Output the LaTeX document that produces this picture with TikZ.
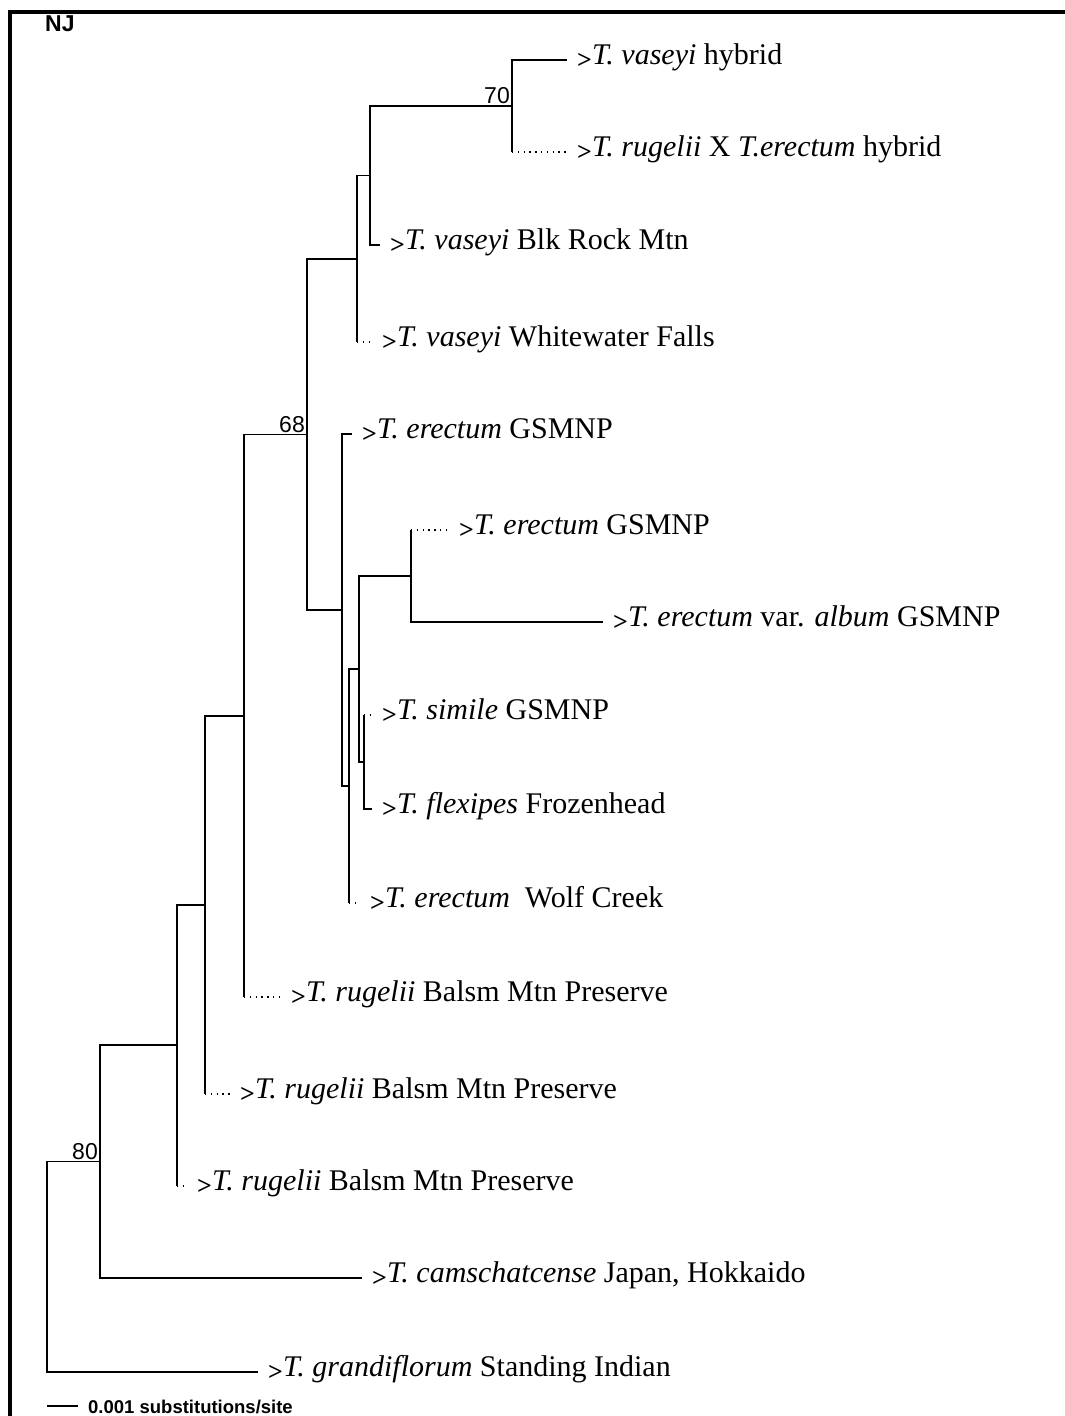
\documentclass[tikz,border=0pt]{standalone}
\usepackage{fontspec}
\setmainfont{Liberation Serif}
\newfontfamily\arialfont{Liberation Sans}
\usetikzlibrary{positioning, calc}

\newcommand{\mk}{\raisebox{-4pt}{\fontsize{26}{26}\selectfont\bfseries >}}

\begin{document}
\begin{tikzpicture}[x=1pt, y=-1pt,
    branch/.style={line width=1.6pt},
    dotbranch/.style={line width=1.3pt, dash pattern=on 1.3pt off 4.5pt},
    taxon/.style={anchor=base west, inner sep=0pt, font=\fontsize{30}{32}\selectfont},
    boot/.style={anchor=south east, inner sep=2pt, font=\arialfont\fontsize{23}{24}\selectfont},
    scalelabel/.style={anchor=base west, inner sep=0pt, font=\arialfont\bfseries\fontsize{18.5}{20}\selectfont},
    framebar/.style={line width=4pt}
]
\useasboundingbox (0,0) rectangle (1065,1416);

% Innere Knoten
\coordinate (root) at (47,1267);
\coordinate (n80)  at (100,1161.5);
\coordinate (n177) at (177,1045);
\coordinate (n205) at (205,905);
\coordinate (n244) at (244,716);
\coordinate (n68)  at (307,434.5);
\coordinate (nV)   at (357,259);
\coordinate (n370) at (370,175.5);
\coordinate (n70)  at (512,106);
\coordinate (nE)   at (342,610);
\coordinate (nF)   at (349,786);
\coordinate (nG)   at (359,669);
\coordinate (nH)   at (411,576);
\coordinate (nS)   at (364,762);

% Blattenden
\coordinate (t1)  at (567,60);
\coordinate (t2)  at (567,152);
\coordinate (t3)  at (380,245);
\coordinate (t4)  at (372,342);
\coordinate (t5)  at (352,434);
\coordinate (t6)  at (449,530);
\coordinate (t7)  at (603,622);
\coordinate (t8)  at (372,715);
\coordinate (t9)  at (372,809);
\coordinate (t10) at (360,903);
\coordinate (t11) at (281,997);
\coordinate (t12) at (230,1094);
\coordinate (t13) at (187,1186);
\coordinate (t14) at (362,1278);
\coordinate (t15) at (258,1372);

% Taxa
\node[taxon] (l1)  at ([xshift=10pt, yshift=-4pt] t1)  {\mk\textit{T. vaseyi} hybrid};
\node[taxon] (l2)  at ([xshift=10pt, yshift=-4pt] t2)  {\mk\textit{T. rugelii} X \textit{T.erectum} hybrid};
\node[taxon] (l3)  at ([xshift=10pt, yshift=-4pt] t3)  {\mk\textit{T. vaseyi} Blk Rock Mtn};
\node[taxon] (l4)  at ([xshift=10pt, yshift=-4pt] t4)  {\mk\textit{T. vaseyi} Whitewater Falls};
\node[taxon] (l5)  at ([xshift=10pt, yshift=-4pt] t5)  {\mk\textit{T. erectum} GSMNP};
\node[taxon] (l6)  at ([xshift=10pt, yshift=-4pt] t6)  {\mk\textit{T. erectum} GSMNP};
\node[taxon] (l7)  at ([xshift=10pt, yshift=-4pt] t7)  {\mk\textit{T. erectum} var. \textit{album} GSMNP};
\node[taxon] (l8)  at ([xshift=10pt, yshift=-4pt] t8)  {\mk\textit{T. simile} GSMNP};
\node[taxon] (l9)  at ([xshift=10pt, yshift=-4pt] t9)  {\mk\textit{T. flexipes} Frozenhead};
\node[taxon] (l10) at ([xshift=10pt, yshift=-4pt] t10) {\mk\textit{T. erectum}\ \ Wolf Creek};
\node[taxon] (l11) at ([xshift=10pt, yshift=-4pt] t11) {\mk\textit{T. rugelii} Balsm Mtn Preserve};
\node[taxon] (l12) at ([xshift=10pt, yshift=-4pt] t12) {\mk\textit{T. rugelii} Balsm Mtn Preserve};
\node[taxon] (l13) at ([xshift=10pt, yshift=-4pt] t13) {\mk\textit{T. rugelii} Balsm Mtn Preserve};
\node[taxon] (l14) at ([xshift=10pt, yshift=-4pt] t14) {\mk\textit{T. camschatcense} Japan, Hokkaido};
\node[taxon] (l15) at ([xshift=10pt, yshift=-4pt] t15) {\mk\textit{T. grandiflorum} Standing Indian};

% Bootstrapwerte
\node[boot] (b70) at (n70) {70};
\node[boot] (b68) at (n68) {68};
\node[boot] (b80) at (n80) {80};

% Äste
\draw[branch] (root) |- (n80);
\draw[branch] (root) |- (t15);
\draw[branch] (n80) |- (n177);
\draw[branch] (n80) |- (t14);
\draw[branch] (n177) |- (n205);
\draw[branch] (n177) -- (n177 |- t13);
\draw[dotbranch] (n177 |- t13) -- (t13);
\draw[branch] (n205) |- (n244);
\draw[branch] (n205) -- (n205 |- t12);
\draw[dotbranch] (n205 |- t12) -- (t12);
\draw[branch] (n244) |- (n68);
\draw[branch] (n244) -- (n244 |- t11);
\draw[dotbranch] (n244 |- t11) -- (t11);
\draw[branch] (n68) |- (nV);
\draw[branch] (n68) |- (nE);
\draw[branch] (nV) |- (n370);
\draw[branch] (nV) -- (nV |- t4);
\draw[dotbranch] (nV |- t4) -- (t4);
\draw[branch] (n370) |- (n70);
\draw[branch] (n370) |- (t3);
\draw[branch] (n70) |- (t1);
\draw[branch] (n70) -- (n70 |- t2);
\draw[dotbranch] (n70 |- t2) -- (t2);
\draw[branch] (nE) |- (t5);
\draw[branch] (nE) |- (nF);
\draw[branch] (nF) |- (nG);
\draw[branch] (nF) -- (nF |- t10);
\draw[dotbranch] (nF |- t10) -- (t10);
\draw[branch] (nG) |- (nH);
\draw[branch] (nG) |- (nS);
\draw[branch] (nH) -- (nH |- t6);
\draw[dotbranch] (nH |- t6) -- (t6);
\draw[branch] (nH) |- (t7);
\draw[branch] (nS) -- (nS |- t8);
\draw[dotbranch] (nS |- t8) -- (t8);
\draw[branch] (nS) |- (t9);

% Massstab
\coordinate (sb0) at (47,1406);
\coordinate (sb1) at (78,1406);
\draw[line width=1.3pt] (sb0) -- (sb1);
\node[scalelabel] (sbtext) at ([xshift=10pt, yshift=-7pt] sb1) {0.001 substitutions/site};

% Titel und Rahmen
\node[anchor=base west, inner sep=0pt, font=\arialfont\bfseries\fontsize{23}{23}\selectfont] (nj) at (45,31) {NJ};
\draw[framebar] (8,12) -- (1065,12);
\draw[framebar] (10,12) -- (10,1416);

\end{tikzpicture}
\end{document}
